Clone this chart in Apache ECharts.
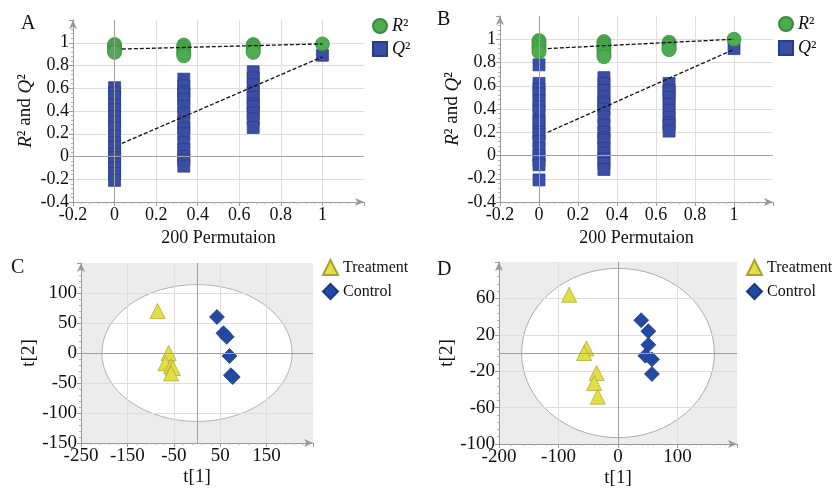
<!DOCTYPE html>
<html><head><meta charset="utf-8">
<script src="https://cdn.jsdelivr.net/npm/echarts@6/dist/echarts.min.js"></script>
<style>html,body{margin:0;padding:0;background:#fff}#c{width:832px;height:495px}</style>
</head><body><div id="c"></div>
<script>
const FONT = 'Liberation Serif';
// permutation x positions
const permX = [0, 0.333, 0.667, 1];
// Panel A
const aR2 = [[0.985, 0.97, 0.95, 0.93, 0.915], [0.98, 0.96, 0.94, 0.92, 0.90, 0.885], [0.985, 0.97, 0.95, 0.93, 0.915], [0.99]];
const aQ2 = [[0.605, 0.56, 0.52, 0.45, 0.41, 0.35, 0.30, 0.25, 0.18, 0.12, 0.08, 0.02, -0.01, -0.06, -0.10, -0.15, -0.21],
             [0.68, 0.62, 0.57, 0.55, 0.50, 0.44, 0.38, 0.30, 0.25, 0.20, 0.12, 0.06, 0.00, -0.03, -0.085],
             [0.745, 0.69, 0.63, 0.57, 0.52, 0.46, 0.44, 0.38, 0.33, 0.255],
             [0.89]];
const aR2Fit = [[0.035, 0.945], [1, 0.99]];
const aQ2Fit = [[0.035, 0.115], [1, 0.877]];
// Panel B
const bR2 = [[0.99, 0.97, 0.95, 0.93, 0.91, 0.89], [0.98, 0.96, 0.94, 0.92, 0.90, 0.87, 0.85], [0.975, 0.96, 0.94, 0.92, 0.91], [1.0]];
const bQ2 = [[0.78, 0.62, 0.57, 0.53, 0.47, 0.42, 0.38, 0.30, 0.28, 0.20, 0.18, 0.12, 0.06, 0.00, -0.04, -0.08, -0.21],
             [0.67, 0.62, 0.56, 0.51, 0.46, 0.44, 0.40, 0.33, 0.26, 0.20, 0.15, 0.13, 0.06, 0.02, -0.03, -0.07, -0.12],
             [0.62, 0.56, 0.54, 0.50, 0.44, 0.39, 0.33, 0.28, 0.26, 0.21],
             [0.92]];
const bR2Fit = [[0.045, 0.92], [1, 1.0]];
const bQ2Fit = [[0.045, 0.2], [1, 0.913]];
// Panel C (scores)
const cTreat = [[-85, 70], [-61, 0], [-68, -17], [-56, -22], [-52, -25], [-56, -34]];
const cCtrl = [[43, 60], [57, 33], [64, 27], [70, -5], [73, -37], [77, -40]];
const cEllipse = [205, 114];
// Panel D (scores)
const dTreat = [[-82, 64], [-53, 5], [-57, 0], [-36, -22], [-40, -33], [-34, -48]];
const dCtrl = [[39, 36], [51, 24], [51, 9], [46, -3], [57, -7], [57, -23]];
const dEllipse = [162, 93];

const pairs = (xs, groups) => groups.flatMap((g, i) => g.map(v => [xs[i], v]));

function axis(gridIndex, min, max, interval, fontSize, name, nameGap, nameSize, nameRich) {
  return {
    type: 'value', gridIndex, min, max, interval,
    axisLine: { show: true, onZero: false, symbol: ['none', 'arrow'], symbolSize: [6, 9], lineStyle: { color: '#9a9a9a', width: 1 } },
    axisTick: { show: true, length: 4, lineStyle: { color: '#9a9a9a' } },
    minorTick: { show: true, splitNumber: 5, length: 2, lineStyle: { color: '#b4b4b4' } },
    splitLine: { show: true, showMinLine: false, showMaxLine: false, lineStyle: { color: '#dedede', width: 1 } },
    axisLabel: { color: '#111', fontFamily: FONT, fontSize, margin: 4, showMaxLabel: false },
    name, nameLocation: 'middle', nameGap,
    nameTextStyle: { color: '#111', fontFamily: FONT, fontSize: nameSize, rich: nameRich || {} }
  };
}
const italicRich = { i: { fontStyle: 'italic', fontFamily: FONT, fontSize: 19, color: '#111' } };

function ellipseBg(params, api) {
  const cs = params.coordSys;
  const c = api.coord([0, 0]);
  const rx = api.size([api.value(0), 0])[0];
  const ry = api.size([0, api.value(1)])[1];
  return {
    type: 'group', children: [
      { type: 'rect', shape: { x: cs.x, y: cs.y, width: cs.width, height: cs.height }, style: { fill: '#ececec' } },
      { type: 'circle', shape: { cx: 0, cy: 0, r: rx }, x: c[0], y: c[1], scaleY: ry / rx,
        style: { fill: '#ffffff', stroke: '#a8a8a8', lineWidth: 1, strokeNoScale: true } }
    ]
  };
}
function zeroLines(i) {
  return { type: 'line', xAxisIndex: i, yAxisIndex: i, data: [], z: 1, silent: true,
    markLine: { silent: true, symbol: 'none', animation: false, label: { show: false },
      lineStyle: { color: '#a0a0a0', type: 'solid', width: 1 }, data: [{ xAxis: 0 }, { yAxis: 0 }] } };
}
function fitLine(i, d) {
  return { type: 'line', xAxisIndex: i, yAxisIndex: i, data: d, symbol: 'none', silent: true, z: 5,
    lineStyle: { color: '#111', type: [4, 2], width: 1.3 } };
}
const q2Style = { color: '#3a4ea3', borderColor: '#2a3b8c', borderWidth: 0.7, opacity: 1 };
const r2Style = { color: '#4fab52', borderColor: '#378d3b', borderWidth: 0.7, opacity: 1 };
const trStyle = { color: '#e2de46', borderColor: '#a8a432', borderWidth: 0.7, opacity: 1 };
const ctStyle = { color: '#2449a2', borderColor: '#1c3985', borderWidth: 0.7, opacity: 1 };

const legFmt = n => n === 'R2' ? '{i|R}²' : n === 'Q2' ? '{i|Q}²' : n;
const legBase = { orient: 'vertical', selectedMode: false, formatter: legFmt, padding: 0,
  textStyle: { fontFamily: FONT, color: '#111', rich: { i: { fontStyle: 'italic', fontFamily: FONT, fontSize: 18, color: '#111' } } } };

const option = {
  animation: false,
  grid: [
    { left: 73, top: 20, width: 291, height: 182 },
    { left: 500, top: 16, width: 273, height: 186 },
    { left: 81, top: 263, width: 232, height: 180 },
    { left: 499, top: 262, width: 238, height: 182 }
  ],
  xAxis: [
    axis(0, -0.2, 1.2, 0.2, 18, '200 Permutaion', 27, 18),
    axis(1, -0.2, 1.2, 0.2, 18, '200 Permutaion', 27, 18),
    axis(2, -250, 250, 100, 19, 't[1]', 25, 19),
    axis(3, -200, 200, 100, 19, 't[1]', 25, 19)
  ],
  yAxis: [
    axis(0, -0.4, 1.2, 0.2, 18, '{i|R}² and {i|Q}²', 38, 19, italicRich),
    axis(1, -0.4, 1.2, 0.2, 18, '{i|R}² and {i|Q}²', 38, 19, italicRich),
    axis(2, -150, 150, 50, 19, 't[2]', 41, 19),
    axis(3, -100, 100, 40, 19, 't[2]', 37, 19)
  ],
  legend: [
    Object.assign({}, legBase, { left: 372, top: 17, itemWidth: 14, itemHeight: 14, itemGap: 5,
      data: [{ name: 'R2', icon: 'circle' }, { name: 'Q2', icon: 'rect' }], textStyle: Object.assign({}, legBase.textStyle, { fontSize: 18 }) }),
    Object.assign({}, legBase, { left: 778, top: 15, itemWidth: 14, itemHeight: 14, itemGap: 6,
      data: [{ name: 'R2', icon: 'circle' }, { name: 'Q2', icon: 'rect' }], textStyle: Object.assign({}, legBase.textStyle, { fontSize: 18 }) }),
    Object.assign({}, legBase, { left: 322, top: 259, itemWidth: 15, itemHeight: 15, itemGap: 7,
      data: [{ name: 'Treatment', icon: 'triangle' }, { name: 'Control', icon: 'diamond' }], textStyle: Object.assign({}, legBase.textStyle, { fontSize: 16 }) }),
    Object.assign({}, legBase, { left: 746, top: 259, itemWidth: 15, itemHeight: 15, itemGap: 7,
      data: [{ name: 'Treatment', icon: 'triangle' }, { name: 'Control', icon: 'diamond' }], textStyle: Object.assign({}, legBase.textStyle, { fontSize: 16 }) })
  ],
  graphic: [
    { type: 'text', left: 21, top: 14, style: { text: 'A', font: '20px "Liberation Serif"', fill: '#111' } },
    { type: 'text', left: 437, top: 10, style: { text: 'B', font: '20px "Liberation Serif"', fill: '#111' } },
    { type: 'text', left: 11, top: 258, style: { text: 'C', font: '20px "Liberation Serif"', fill: '#111' } },
    { type: 'text', left: 437, top: 260, style: { text: 'D', font: '20px "Liberation Serif"', fill: '#111' } }
  ],
  series: [
    zeroLines(0), zeroLines(1), zeroLines(2), zeroLines(3),
    { type: 'custom', xAxisIndex: 2, yAxisIndex: 2, renderItem: ellipseBg, data: [cEllipse], z: -1, silent: true, clip: false },
    { type: 'custom', xAxisIndex: 3, yAxisIndex: 3, renderItem: ellipseBg, data: [dEllipse], z: -1, silent: true, clip: false },
    { name: 'Q2', type: 'scatter', xAxisIndex: 0, yAxisIndex: 0, symbol: 'rect', symbolSize: 12, data: pairs(permX, aQ2), itemStyle: q2Style, z: 3 },
    { name: 'R2', type: 'scatter', xAxisIndex: 0, yAxisIndex: 0, symbol: 'circle', symbolSize: 14, data: pairs(permX, aR2), itemStyle: r2Style, z: 4 },
    { name: 'Q2', type: 'scatter', xAxisIndex: 1, yAxisIndex: 1, symbol: 'rect', symbolSize: 12, data: pairs(permX, bQ2), itemStyle: q2Style, z: 3 },
    { name: 'R2', type: 'scatter', xAxisIndex: 1, yAxisIndex: 1, symbol: 'circle', symbolSize: 14, data: pairs(permX, bR2), itemStyle: r2Style, z: 4 },
    fitLine(0, aR2Fit), fitLine(0, aQ2Fit), fitLine(1, bR2Fit), fitLine(1, bQ2Fit),
    { name: 'Treatment', type: 'scatter', xAxisIndex: 2, yAxisIndex: 2, symbol: 'triangle', symbolSize: 15, data: cTreat, itemStyle: trStyle, z: 3 },
    { name: 'Control', type: 'scatter', xAxisIndex: 2, yAxisIndex: 2, symbol: 'diamond', symbolSize: 15, data: cCtrl, itemStyle: ctStyle, z: 3 },
    { name: 'Treatment', type: 'scatter', xAxisIndex: 3, yAxisIndex: 3, symbol: 'triangle', symbolSize: 15, data: dTreat, itemStyle: trStyle, z: 3 },
    { name: 'Control', type: 'scatter', xAxisIndex: 3, yAxisIndex: 3, symbol: 'diamond', symbolSize: 15, data: dCtrl, itemStyle: ctStyle, z: 3 }
  ]
};
const chart = echarts.init(document.getElementById('c'), null, { renderer: 'canvas' });
chart.setOption(option);
</script>
</body></html>
